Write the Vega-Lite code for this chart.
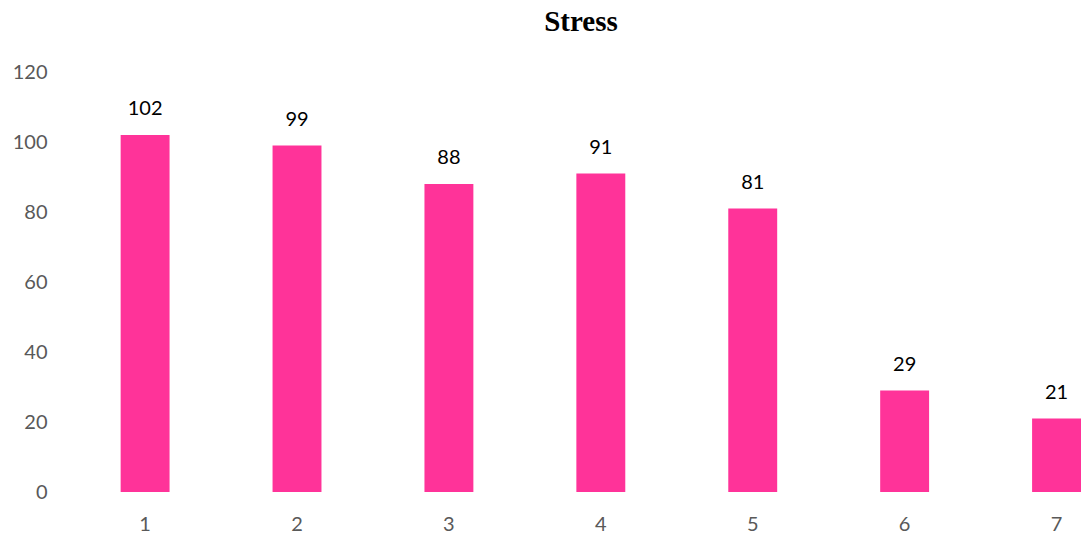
{
  "$schema": "https://vega.github.io/schema/vega-lite/v6.json",
  "width": 1012,
  "height": 420,
  "padding": {"left": 12, "top": 8, "right": 0, "bottom": 0},
  "background": "white",
  "title": {"text": "Stress", "font": "Liberation Serif", "fontSize": 29, "fontWeight": "bold", "color": "#000000", "offset": 25, "dx": 6},
  "data": {"values": [
    {"group": "1", "value": 102},
    {"group": "2", "value": 99},
    {"group": "3", "value": 88},
    {"group": "4", "value": 91},
    {"group": "5", "value": 81},
    {"group": "6", "value": 29},
    {"group": "7", "value": 21}
  ]},
  "config": {"view": {"stroke": null}},
  "encoding": {
    "x": {"field": "group", "type": "nominal", "sort": null,
      "scale": {"paddingInner": 0.678, "paddingOuter": 0.17, "align": 1},
      "axis": {"title": null, "labelAngle": 0, "ticks": false, "domain": false, "labelFont": "Lato", "labelFontSize": 20, "labelColor": "#595959", "labelPadding": 22}},
    "y": {"field": "value", "type": "quantitative",
      "scale": {"domain": [0, 120]},
      "axis": {"title": null, "values": [0, 20, 40, 60, 80, 100, 120], "grid": false, "ticks": false, "domain": false, "labelFont": "Lato", "labelFontSize": 20, "labelColor": "#595959", "labelPadding": 22}}
  },
  "layer": [
    {"mark": {"type": "bar", "color": "#FF3399"}},
    {"mark": {"type": "text", "dy": -26, "font": "Lato", "fontSize": 20, "color": "#000000"},
     "encoding": {"text": {"field": "value", "type": "quantitative"}}}
  ]
}
